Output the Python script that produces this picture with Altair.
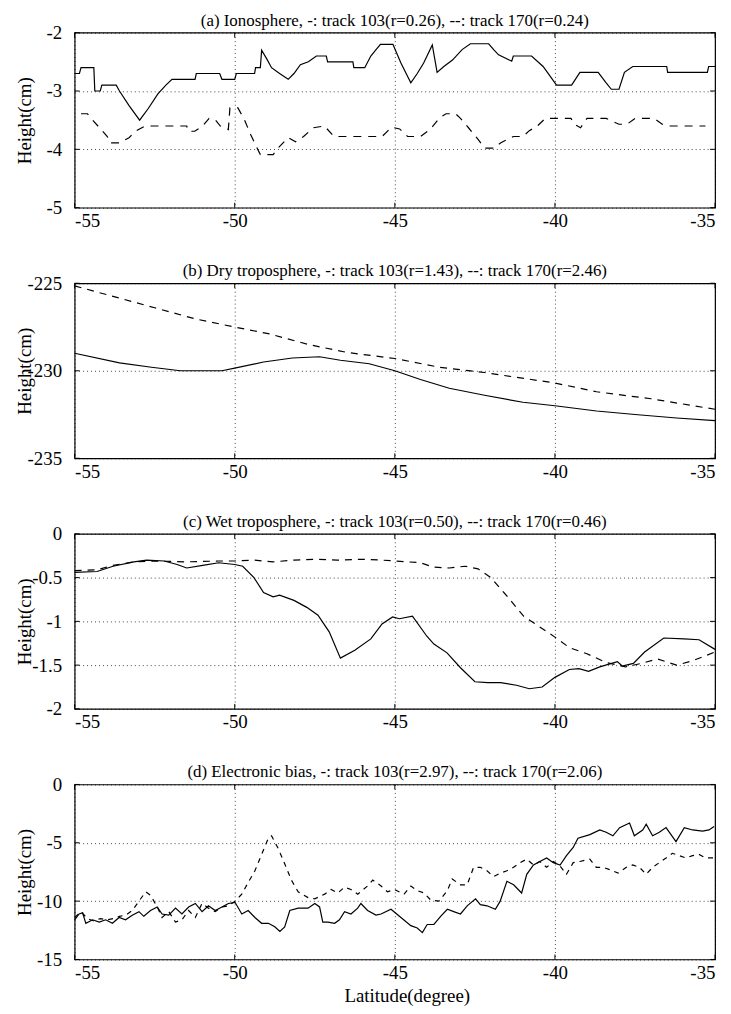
import altair as alt
import pandas as pd

LAT_TICKS = [-55, -50, -45, -40, -35]

# (a) Ionosphere
a_lat_103 = [-55.0, -54.85, -54.8, -54.4, -54.37, -54.2, -54.15, -53.7, -53.6, -53.3, -52.97, -52.7, -52.4,
             -52.15, -51.96, -51.24, -51.2, -50.47, -50.4, -50.0, -49.95, -49.38, -49.35, -49.2, -49.16, -49.0,
             -48.85, -48.6, -48.33, -48.15, -47.95, -47.7, -47.45, -47.14, -47.1, -46.31, -46.28, -45.94, -45.75,
             -45.6, -45.45, -45.06, -44.81, -44.6, -44.5, -44.3, -44.1, -43.83, -43.68, -43.47, -43.2, -42.9,
             -42.64, -42.07, -41.9, -41.76, -41.35, -41.3, -40.73, -40.37, -40.0, -39.95, -39.48, -39.22, -38.65,
             -38.4, -38.24, -38.0, -37.83, -37.57, -36.51, -36.48, -35.24, -35.2, -35.0]
a_val_103 = [-2.7, -2.7, -2.6, -2.6, -3.0, -3.0, -2.9, -2.9, -3.0, -3.25, -3.5, -3.3, -3.05,
             -2.9, -2.8, -2.8, -2.7, -2.7, -2.8, -2.8, -2.7, -2.7, -2.6, -2.6, -2.3, -2.45,
             -2.6, -2.7, -2.8, -2.7, -2.55, -2.5, -2.4, -2.4, -2.5, -2.5, -2.6, -2.6, -2.4,
             -2.3, -2.2, -2.2, -2.52, -2.75, -2.86, -2.7, -2.52, -2.21, -2.68, -2.58, -2.47, -2.29,
             -2.19, -2.19, -2.3, -2.38, -2.49, -2.4, -2.4, -2.58, -2.86, -2.9, -2.9, -2.68, -2.68,
             -2.86, -2.97, -2.97, -2.68, -2.58, -2.58, -2.68, -2.68, -2.58, -2.58]
a_lat_170 = [-54.8, -54.6, -54.45, -53.98, -53.9, -53.6, -53.3, -53.1, -52.8, -51.5, -51.45, -51.25, -51.0,
             -50.8, -50.6, -50.45, -50.2, -50.15, -49.9, -49.7, -49.5, -49.3, -49.2, -48.8, -48.65, -48.33,
             -48.1, -47.85, -47.55, -47.2, -46.9, -46.8, -45.4, -45.1, -44.85, -44.6, -44.2, -43.9, -43.6,
             -43.4, -43.1, -42.95, -42.7, -42.4, -42.2, -41.9, -41.7, -41.3, -41.0, -40.8, -40.55, -40.3,
             -39.5, -39.4, -39.2, -39.0, -38.4, -38.0, -37.75, -37.5, -36.9, -36.65, -36.4, -35.3]
a_val_170 = [-3.39, -3.39, -3.49, -3.78, -3.89, -3.89, -3.8, -3.69, -3.6, -3.6, -3.69, -3.69, -3.6,
             -3.47, -3.5, -3.6, -3.66, -3.29, -3.29, -3.49, -3.75, -3.98, -4.09, -4.09, -3.98, -3.8,
             -3.87, -3.78, -3.63, -3.6, -3.78, -3.78, -3.78, -3.62, -3.65, -3.78, -3.78, -3.66, -3.46,
             -3.39, -3.39, -3.47, -3.63, -3.83, -3.98, -3.98, -3.89, -3.78, -3.78, -3.68, -3.6, -3.47,
             -3.47, -3.57, -3.63, -3.47, -3.47, -3.57, -3.57, -3.47, -3.47, -3.57, -3.6, -3.6]

# (b) Dry troposphere
b_lat_103 = [-55.0, -53.6, -52.6, -51.7, -50.4, -50.0, -49.1, -48.2, -47.35, -46.7, -45.8, -45.0, -44.2,
             -43.3, -42.2, -41.0, -40.0, -38.7, -37.5, -36.2, -35.0]
b_val_103 = [-229.0, -229.55, -229.8, -230.0, -230.0, -229.85, -229.5, -229.27, -229.2, -229.4, -229.6,
             -230.0, -230.5, -231.0, -231.4, -231.8, -232.0, -232.3, -232.5, -232.7, -232.85]
b_lat_170 = [-55.0, -53.6, -52.5, -51.2, -50.0, -48.9, -47.7, -46.5, -45.0, -43.6, -42.2, -40.0, -38.7,
             -37.0, -35.0]
b_val_170 = [-225.15, -225.85, -226.4, -227.05, -227.5, -227.9, -228.5, -228.95, -229.3, -229.8, -230.1,
             -230.7, -231.2, -231.6, -232.2]

# (c) Wet troposphere
c_lat_103 = [-55.0, -54.3, -53.8, -53.15, -52.75, -52.2, -51.8, -51.5, -51.0, -50.5, -50.0, -49.75, -49.4,
             -49.1, -48.8, -48.6, -48.15, -47.75, -47.4, -47.05, -46.7, -46.25, -45.75, -45.4, -45.07, -44.86,
             -44.45, -44.0, -43.78, -43.37, -42.95, -42.5, -42.1, -41.7, -41.2, -40.8, -40.4, -40.0, -39.55,
             -39.25, -38.95, -38.6, -38.05, -37.9, -37.55, -37.2, -36.6, -35.97, -35.5, -35.0]
c_val_103 = [-0.44, -0.43, -0.37, -0.32, -0.30, -0.31, -0.35, -0.39, -0.36, -0.33, -0.35, -0.37, -0.50,
             -0.67, -0.72, -0.70, -0.76, -0.84, -0.93, -1.12, -1.42, -1.33, -1.20, -1.03, -0.95, -0.97,
             -0.94, -1.17, -1.26, -1.36, -1.53, -1.69, -1.70, -1.70, -1.73, -1.77, -1.75, -1.64, -1.55,
             -1.54, -1.57, -1.52, -1.46, -1.51, -1.48, -1.35, -1.19, -1.20, -1.21, -1.32]
c_lat_170 = [-55.0, -54.3, -53.8, -53.15, -52.5, -51.5, -50.5, -50.0, -49.4, -48.8, -48.15, -47.5, -46.8,
             -46.1, -45.4, -45.0, -44.2, -43.8, -43.3, -42.8, -42.4, -42.0, -41.5, -40.98, -40.45, -40.0,
             -39.55, -39.0, -38.4, -37.8, -37.3, -36.8, -36.2, -35.7, -35.0]
c_val_170 = [-0.42, -0.41, -0.36, -0.32, -0.31, -0.32, -0.31, -0.31, -0.30, -0.32, -0.30, -0.29, -0.30,
             -0.29, -0.30, -0.31, -0.33, -0.38, -0.39, -0.37, -0.40, -0.50, -0.71, -0.94, -1.07, -1.18,
             -1.30, -1.37, -1.47, -1.52, -1.48, -1.43, -1.50, -1.45, -1.35]

# (d) Electronic bias
d_lat_103 = [-55.0, -54.86, -54.75, -54.65, -54.44, -54.23, -54.03, -53.82, -53.61, -53.41, -53.2, -52.99,
             -52.84, -52.63, -52.42, -52.27, -52.06, -51.85, -51.65, -51.44, -51.23, -51.02, -50.82, -50.61,
             -50.4, -50.2, -49.99, -49.78, -49.58, -49.37, -49.16, -48.95, -48.75, -48.59, -48.44, -48.28,
             -48.02, -47.71, -47.5, -47.35, -47.25, -47.09, -46.88, -46.73, -46.57, -46.37, -46.16, -46.06,
             -45.85, -45.59, -45.43, -45.12, -44.81, -44.5, -44.3, -44.14, -43.99, -43.78, -43.57, -43.36,
             -43.16, -42.95, -42.74, -42.48, -42.33, -42.12, -41.86, -41.71, -41.5, -41.29, -41.04, -40.88,
             -40.67, -40.47, -40.26, -40.05, -39.84, -39.64, -39.43, -39.28, -38.91, -38.6, -38.4, -38.19,
             -37.98, -37.67, -37.52, -37.26, -37.15, -36.95, -36.74, -36.53, -36.22, -35.96, -35.7, -35.39,
             -35.19, -35.03]
d_val_103 = [-11.6, -11.1, -11.0, -11.9, -11.6, -11.8, -11.6, -11.9, -11.4, -11.6, -11.2, -10.9,
             -11.3, -10.8, -10.5, -11.1, -11.2, -10.6, -11.1, -10.5, -10.2, -10.9, -10.4, -10.8,
             -10.5, -10.2, -10.1, -11.1, -10.8, -11.4, -11.9, -11.9, -12.2, -12.6, -12.2, -10.8,
             -10.6, -10.6, -10.2, -10.5, -11.8, -11.8, -11.9, -11.6, -10.9, -11.1, -10.6, -10.2,
             -10.8, -11.2, -11.1, -10.7, -11.4, -12.1, -12.3, -12.7, -12.0, -12.0, -11.3, -10.7,
             -10.9, -11.1, -10.4, -9.8, -10.3, -10.4, -10.7, -10.0, -8.3, -8.6, -9.3, -7.7,
             -6.9, -6.6, -6.3, -6.7, -6.9, -6.1, -5.4, -4.6, -4.3, -3.9, -4.1, -4.4,
             -3.7, -3.3, -4.4, -3.9, -3.4, -4.4, -4.1, -3.7, -4.9, -3.7, -3.9, -4.0,
             -3.9, -3.6]
d_lat_170 = [-55.0, -54.8, -54.6, -54.4, -54.2, -54.0, -53.8, -53.6, -53.4, -53.2, -52.99, -52.78, -52.63,
             -52.42, -52.27, -52.06, -51.85, -51.65, -51.44, -51.23, -51.02, -50.82, -50.61, -50.4, -50.2,
             -49.99, -49.78, -49.58, -49.37, -49.16, -48.95, -48.85, -48.64, -48.44, -48.23, -48.02, -47.71,
             -47.5, -47.19, -46.99, -46.78, -46.57, -46.37, -46.16, -45.85, -45.69, -45.43, -45.23, -45.02,
             -44.71, -44.5, -44.3, -44.09, -43.88, -43.62, -43.36, -43.21, -42.95, -42.74, -42.54, -42.33,
             -42.12, -41.92, -41.71, -41.5, -41.29, -41.09, -40.88, -40.67, -40.47, -40.26, -40.05, -39.84,
             -39.64, -39.43, -39.22, -38.91, -38.71, -38.5, -38.29, -38.03, -37.77, -37.57, -37.36, -37.15,
             -36.95, -36.74, -36.53, -36.33, -36.12, -35.91, -35.7, -35.5, -35.29, -35.03]
d_val_170 = [-11.4, -10.9, -11.5, -11.7, -11.5, -11.6, -11.5, -11.3, -11.2, -10.8, -10.0, -9.2, -9.5,
             -10.5, -11.4, -10.9, -11.8, -11.6, -10.8, -11.4, -10.2, -10.6, -10.9, -10.5, -10.4,
             -10.0, -9.4, -8.4, -7.4, -6.0, -4.6, -4.4, -5.5, -6.8, -8.2, -9.2, -9.7,
             -9.8, -9.4, -9.0, -9.3, -8.8, -9.0, -9.4, -8.7, -8.2, -8.7, -9.2, -9.0,
             -9.4, -8.7, -9.1, -9.3, -9.9, -10.0, -9.1, -8.1, -8.6, -8.6, -7.1, -7.1,
             -7.4, -7.9, -7.6, -7.4, -7.1, -6.7, -6.4, -6.9, -6.6, -7.1, -6.6, -7.0,
             -7.7, -6.7, -6.6, -6.4, -7.1, -7.1, -7.3, -7.6, -7.1, -6.9, -7.1, -7.7,
             -7.1, -6.7, -6.3, -5.9, -6.1, -6.3, -6.1, -6.0, -6.3, -6.3]

TITLES = [
    "(a) Ionosphere, -: track 103(r=0.26), --: track 170(r=0.24)",
    "(b) Dry troposphere, -: track 103(r=1.43), --: track 170(r=2.46)",
    "(c) Wet troposphere, -: track 103(r=0.50), --: track 170(r=0.46)",
    "(d) Electronic bias, -: track 103(r=2.97), --: track 170(r=2.06)",
]

FONT = "Liberation Serif"
W, H = 644, 176
TICK = 5


def panel(lat_s, val_s, lat_d, val_d, title, ydom, yticks, dash, last=False):
    df_s = pd.DataFrame({"lat": lat_s, "v": val_s})
    df_d = pd.DataFrame({"lat": lat_d, "v": val_d})
    df_xt = pd.DataFrame({"lat": LAT_TICKS})
    df_yt = pd.DataFrame({"v": yticks})
    xaxis = alt.Axis(
        values=LAT_TICKS, labelExpr="datum.value + ''", grid=True, gridColor="black",
        gridDash=[1, 3], gridWidth=0.8, gridOpacity=0.9, ticks=False, domain=False,
        labelFont=FONT, labelFontSize=19, labelColor="black", labelPadding=4,
        title="Latitude(degree)" if last else None, titleFont=FONT, titleFontSize=19,
        titleFontWeight="normal", titleColor="black", titlePadding=4, titleX=334,
    )
    yaxis = alt.Axis(
        values=yticks, labelExpr="datum.value + ''", grid=True, gridColor="black",
        gridDash=[1, 3], gridWidth=0.8, gridOpacity=0.9, ticks=False, domain=False,
        labelFont=FONT, labelFontSize=19, labelColor="black", labelPadding=13,
        title="Height(cm)", titleFont=FONT, titleFontSize=19, titleFontWeight="normal",
        titleColor="black", titleX=-40, titleY=H / 2,
    )
    xs = alt.Scale(domain=[-55, -35], nice=False, zero=False)
    ys = alt.Scale(domain=ydom, nice=False, zero=False)
    x = alt.X("lat:Q", scale=xs, axis=xaxis)
    y = alt.Y("v:Q", scale=ys, axis=yaxis)
    solid = alt.Chart(df_s).mark_line(color="black", strokeWidth=1.2).encode(x=x, y=y)
    dashed = alt.Chart(df_d).mark_line(color="black", strokeWidth=1.2, strokeDash=dash).encode(x=x, y=y)
    # inward tick marks on all four sides
    xt_top = alt.Chart(df_xt).mark_rule(color="black", strokeWidth=1).encode(
        x=x, y=alt.value(0), y2=alt.value(TICK))
    xt_bot = alt.Chart(df_xt).mark_rule(color="black", strokeWidth=1).encode(
        x=x, y=alt.value(H - TICK), y2=alt.value(H))
    yt_left = alt.Chart(df_yt).mark_rule(color="black", strokeWidth=1).encode(
        y=y, x=alt.value(0), x2=alt.value(TICK))
    yt_right = alt.Chart(df_yt).mark_rule(color="black", strokeWidth=1).encode(
        y=y, x=alt.value(W - TICK), x2=alt.value(W))
    return alt.layer(solid, dashed, xt_top, xt_bot, yt_left, yt_right).properties(
        width=W, height=H,
        title=alt.TitleParams(title, font=FONT, fontSize=17, fontWeight="normal", color="black",
                              anchor="middle", offset=-6),
    )


pa = panel(a_lat_103, a_val_103, a_lat_170, a_val_170, TITLES[0], [-5, -2], [-2, -3, -4, -5], [8, 7])
pb = panel(b_lat_103, b_val_103, b_lat_170, b_val_170, TITLES[1], [-235, -225], [-225, -230, -235], [7, 6])
pc = panel(c_lat_103, c_val_103, c_lat_170, c_val_170, TITLES[2], [-2, 0], [0, -0.5, -1, -1.5, -2], [7, 6])
pd_ = panel(d_lat_103, d_val_103, d_lat_170, d_val_170, TITLES[3], [-15, 0], [0, -5, -10, -15], [5, 5], last=True)

chart = alt.vconcat(pa, pb, pc, pd_, spacing=30).properties(
    padding={"left": 7, "top": 0, "right": 5, "bottom": 0},
    background="white",
).configure_view(stroke="black", strokeWidth=1.2)

chart.save("out.html", embed_options={"renderer": "svg", "actions": False})
